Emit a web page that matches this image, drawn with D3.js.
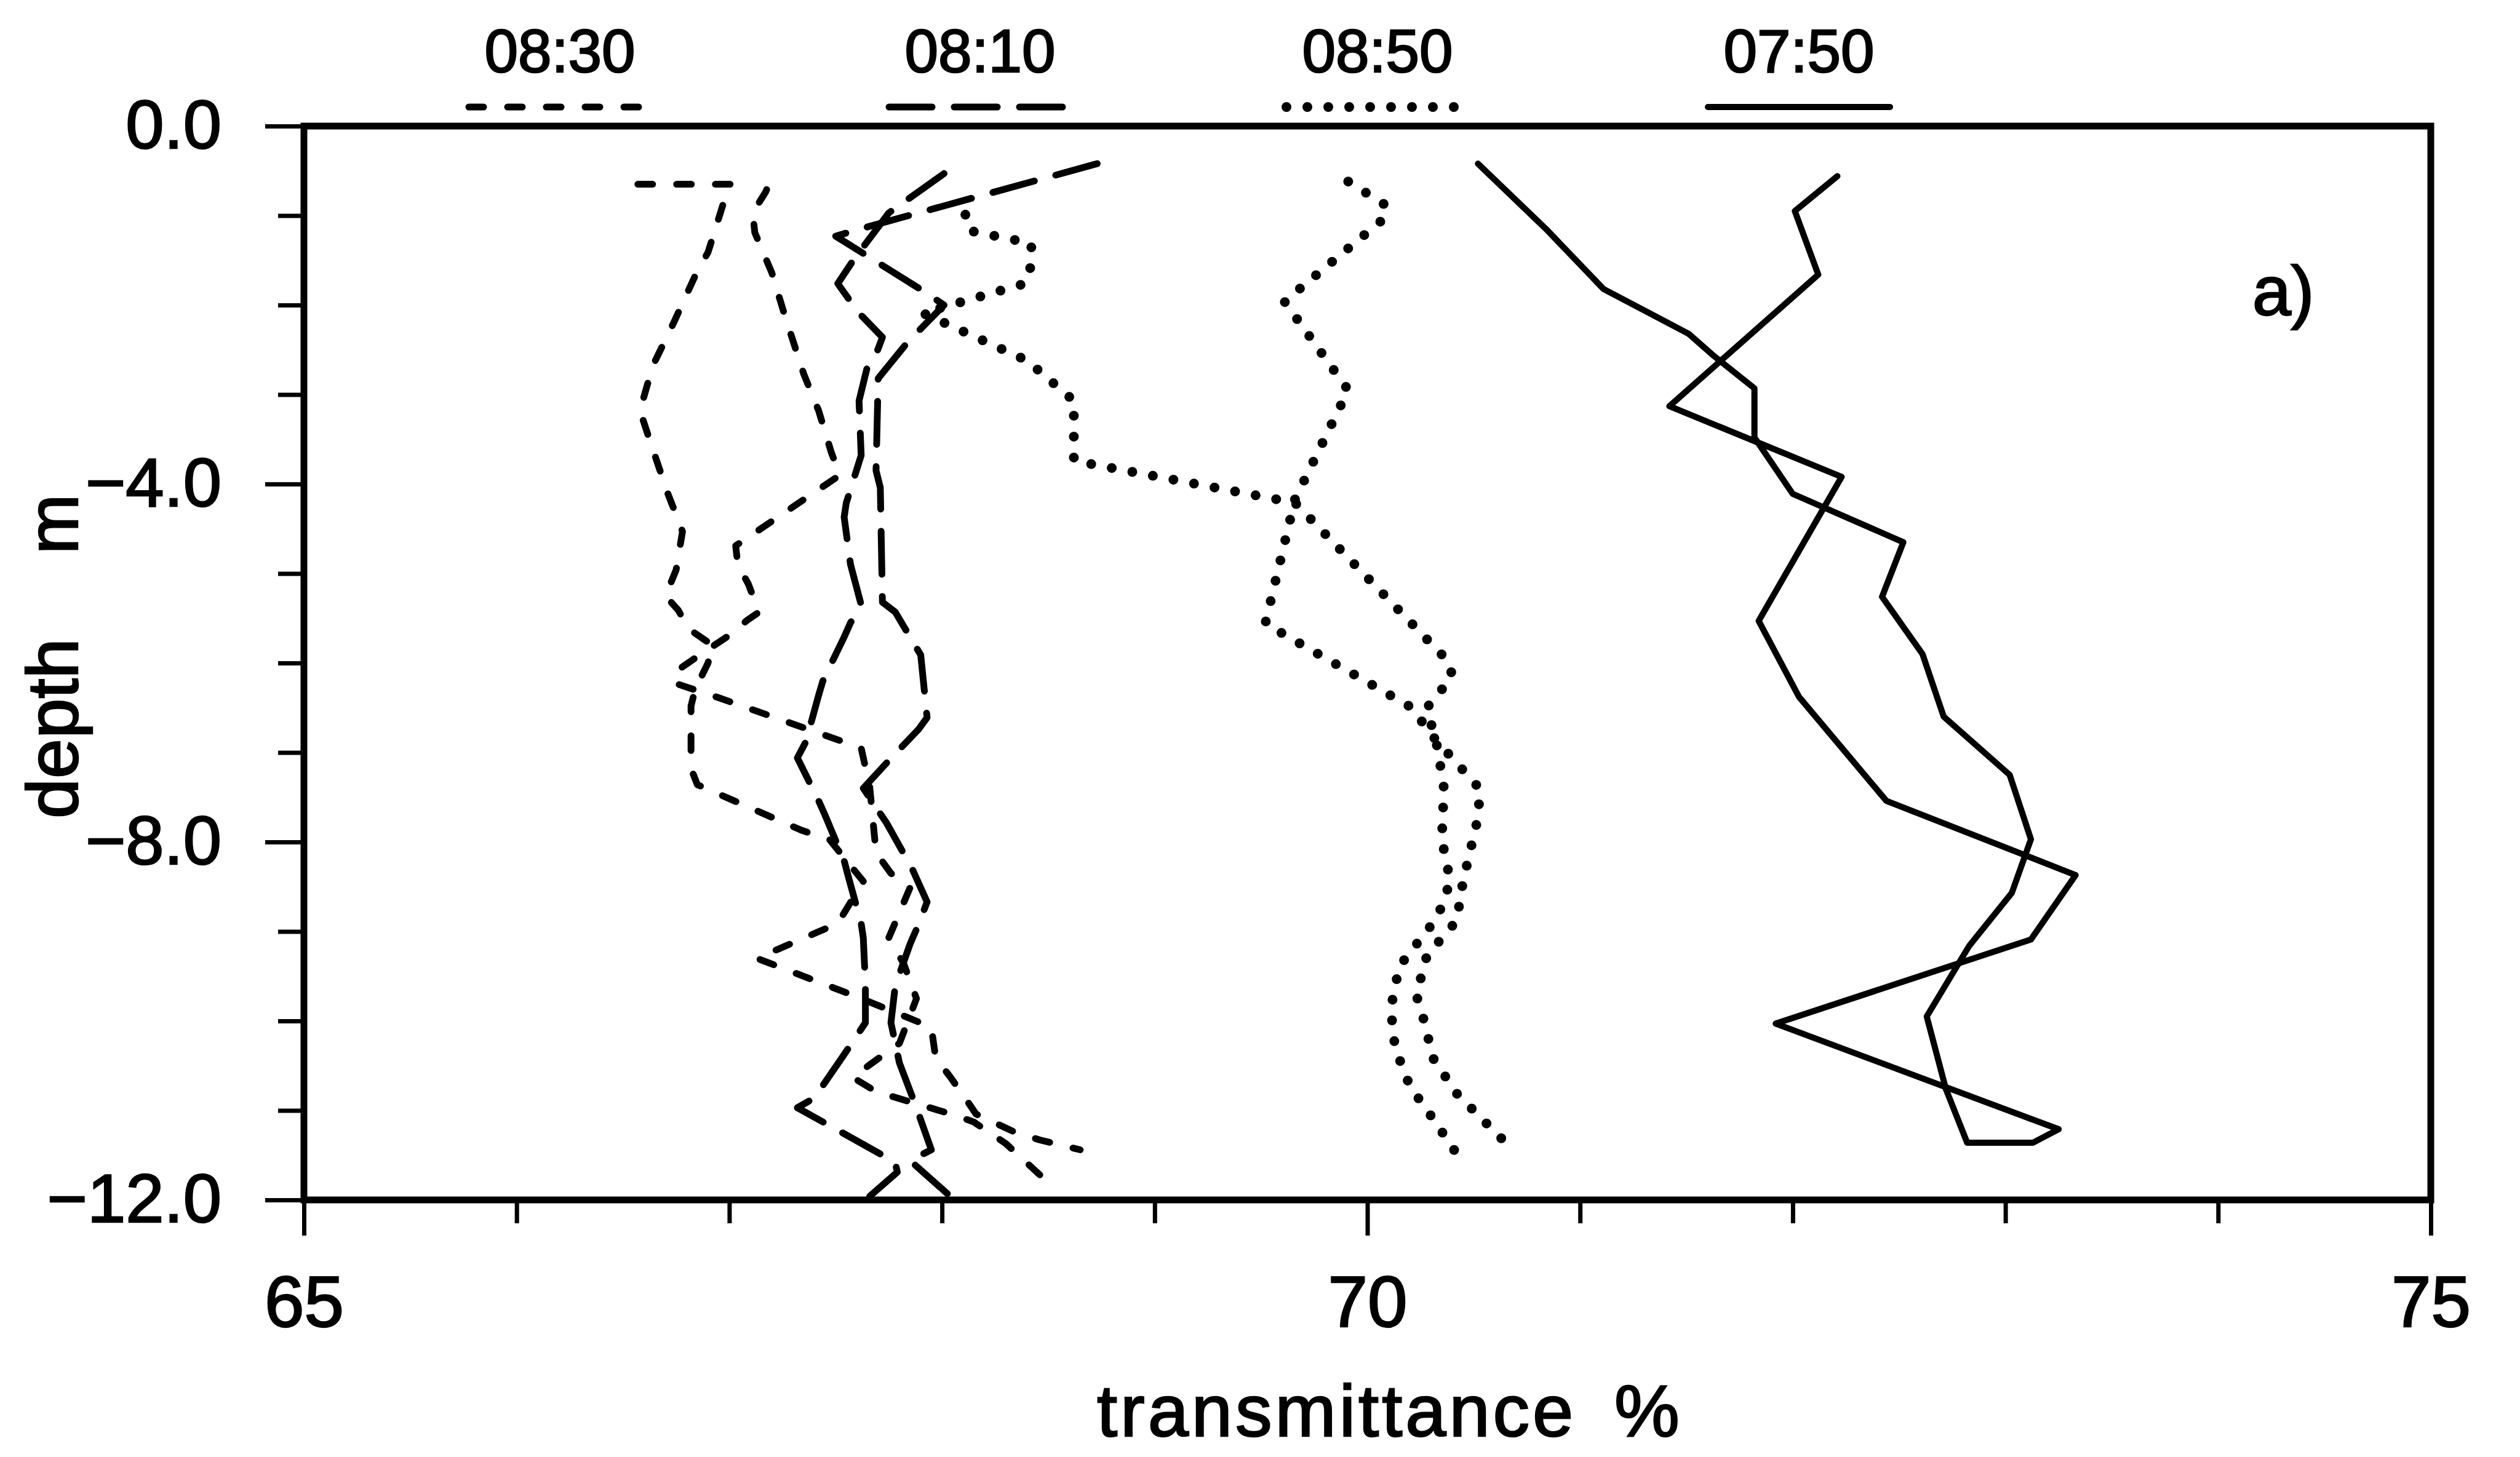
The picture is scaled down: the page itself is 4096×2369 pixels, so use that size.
<!DOCTYPE html>
<html>
<head>
<meta charset="utf-8">
<script src="https://cdn.jsdelivr.net/npm/d3@7"></script>
<style>
  html, body { margin: 0; padding: 0; background: #fff; }
  svg { display: block; }
  text { fill: #000; stroke: #000; stroke-width: 2.5px; paint-order: stroke; }
</style>
</head>
<body>
<svg id="chart" width="4096" height="2369"></svg>
<script>
// ---- data: transmittance (%) against depth (m), two casts per profile time ----
const times = ["08:30", "08:10", "08:50", "07:50"];

const cast0830Down = [[66.57,-0.65],[67.01,-0.65],[66.97,-0.88],[66.90,-1.41],[66.84,-1.67],[66.74,-2.19],[66.64,-2.68],[66.58,-3.18],[66.63,-3.54],[66.71,-4.10],[66.78,-4.53],[66.75,-4.96],[66.70,-5.25],[66.76,-5.41],[66.81,-5.62],[66.92,-5.80],[66.90,-6.00],[66.84,-6.29],[66.82,-6.48],[66.82,-7.18],[66.85,-7.36],[67.34,-7.87],[67.47,-7.97],[67.63,-8.44],[67.51,-8.91],[67.13,-9.30],[67.60,-9.73],[67.95,-10.07],[67.97,-10.41],[68.04,-10.63],[68.10,-10.83],[68.16,-11.04],[68.34,-11.24],[68.46,-11.33],[68.65,-11.44]];
const cast0830Up = [[68.46,-11.72],[68.30,-11.37],[68.15,-11.13],[68.07,-11.06],[67.69,-10.79],[67.58,-10.63],[67.66,-10.49],[67.80,-10.25],[67.88,-9.75],[67.82,-9.36],[67.75,-9.07],[67.85,-8.51],[67.76,-8.35],[67.69,-8.12],[67.66,-7.38],[67.62,-6.95],[66.94,-6.38],[66.75,-6.23],[66.74,-6.11],[66.83,-5.96],[67.00,-5.69],[67.08,-5.53],[67.14,-5.43],[67.09,-5.12],[67.04,-4.90],[67.03,-4.69],[67.52,-3.90],[67.48,-3.65],[67.42,-3.18],[67.35,-2.77],[67.26,-2.11],[67.20,-1.64],[67.12,-1.19],[67.11,-0.97],[67.17,-0.74],[67.21,-0.53]];

const cast0810A = [[68.73,-0.42],[67.63,-1.14],[67.50,-1.23],[67.91,-1.84],[68.01,-2.00],[67.84,-2.41],[67.70,-2.82],[67.69,-3.85],[67.71,-4.04],[67.72,-5.32],[67.78,-5.43],[67.90,-5.91],[67.93,-6.61],[67.89,-6.74],[67.75,-7.09],[67.63,-7.40],[67.70,-7.65],[67.74,-7.79],[67.86,-8.30],[67.93,-8.67],[67.89,-8.92],[67.85,-9.14],[67.78,-9.61],[67.76,-10.02],[67.80,-10.47],[67.88,-10.97],[67.95,-11.44],[67.85,-11.56],[68.03,-11.94]];
const cast0810B = [[68.01,-0.53],[67.75,-0.97],[67.63,-1.35],[67.58,-1.51],[67.51,-1.76],[67.57,-1.96],[67.61,-2.09],[67.72,-2.36],[67.69,-2.55],[67.65,-2.68],[67.61,-3.07],[67.62,-3.68],[67.55,-4.21],[67.54,-4.37],[67.57,-4.90],[67.59,-5.08],[67.62,-5.35],[67.57,-5.55],[67.54,-5.71],[67.44,-6.20],[67.42,-6.36],[67.36,-6.88],[67.32,-7.06],[67.42,-7.54],[67.45,-7.70],[67.54,-8.21],[67.56,-8.39],[67.62,-8.91],[67.63,-9.07],[67.64,-9.59],[67.64,-10.02],[67.57,-10.27],[67.53,-10.41],[67.40,-10.86],[67.32,-10.97],[67.54,-11.26],[67.78,-11.58],[67.79,-11.69],[67.66,-11.96]];

const cast0850A = [[68.11,-0.99],[68.13,-1.17],[68.42,-1.31],[68.42,-1.55],[68.39,-1.76],[67.91,-2.09],[68.40,-2.62],[68.62,-3.07],[68.62,-3.74],[69.66,-4.21],[70.38,-5.98],[70.40,-6.15],[70.28,-6.50],[70.33,-6.95],[70.36,-7.40],[70.35,-7.97],[70.39,-8.44],[70.33,-8.84],[70.15,-9.39],[70.11,-9.86],[70.13,-10.30],[70.20,-10.73],[70.32,-11.13],[70.43,-11.52]];
const cast0850B = [[69.91,-0.62],[70.09,-0.89],[70.07,-1.05],[69.61,-1.96],[69.91,-2.95],[69.66,-4.17],[69.52,-5.56],[70.21,-6.50],[70.30,-6.80],[70.53,-7.41],[70.52,-7.73],[70.45,-8.44],[70.42,-8.88],[70.28,-9.27],[70.23,-9.71],[70.26,-9.94],[70.31,-10.42],[70.42,-10.81],[70.65,-11.36]];

const cast0750Down = [[70.52,-0.42],[70.84,-1.15],[71.11,-1.82],[71.51,-2.32],[71.63,-2.57],[71.82,-2.93],[71.82,-3.48],[72.00,-4.11],[72.52,-4.65],[72.42,-5.26],[72.61,-5.90],[72.71,-6.60],[73.02,-7.25],[73.12,-7.97],[73.03,-8.57],[72.83,-9.16],[72.63,-9.95],[72.72,-10.76],[72.82,-11.36],[73.13,-11.36],[73.25,-11.21]];
const cast0750Up = [[73.25,-11.21],[71.92,-10.03],[73.12,-9.09],[73.33,-8.37],[72.44,-7.54],[72.03,-6.38],[71.84,-5.53],[72.23,-3.92],[71.42,-3.13],[72.12,-1.66],[72.01,-0.95],[72.21,-0.56]];

const depthMajor = [0, -4, -8, -12];
const depthMinor = [-1, -2, -3, -5, -6, -7, -9, -10, -11];
const transMajor = [65, 70, 75];
const transMinor = [66, 67, 68, 69, 71, 72, 73, 74];

// casts grouped by profile time
const profiles = [
  { time: "08:30", casts: [cast0830Down, cast0830Up] },
  { time: "08:10", casts: [cast0810A, cast0810B] },
  { time: "08:50", casts: [cast0850A, cast0850B] },
  { time: "07:50", casts: [cast0750Down, cast0750Up] }
];

// ---- styling & layout ----
const lineStyle = {
  "08:30": { dash: "24 39", width: 11, cap: "round" },
  "08:10": { dash: "70 36", width: 11, cap: "round" },
  "08:50": { dash: "0 34", width: 16, cap: "round" },
  "07:50": { dash: null, width: 10, cap: "round" }
};
const legendCenters = [910, 1593, 2239, 2924];
const font = "'Liberation Sans', Arial, Helvetica, sans-serif";

const W = 4096, H = 2369;
const plot = { left: 494, right: 3951, top: 205, bottom: 1951 };

const svg = d3.select("#chart");
svg.append("rect").attr("width", W).attr("height", H).attr("fill", "#fff");

const x = d3.scaleLinear().domain([65, 75]).range([plot.left, plot.right]);
const y = d3.scaleLinear().domain([0, -12]).range([plot.top, plot.bottom]);

// ---- axes ----
function styleAxis(g, fontSize) {
  g.select(".domain").remove();
  g.selectAll(".tick line").attr("stroke", "#000").attr("stroke-width", 7);
  g.selectAll(".tick text")
    .attr("fill", "#000")
    .style("font-family", font)
    .style("font-size", fontSize + "px");
}

const xMinor = svg.append("g").attr("transform", `translate(0,${plot.bottom})`)
  .call(d3.axisBottom(x).tickValues(transMinor).tickSize(38).tickFormat(""));
styleAxis(xMinor, 10);
const xMajor = svg.append("g").attr("transform", `translate(0,${plot.bottom})`)
  .call(d3.axisBottom(x).tickValues(transMajor).tickSize(58).tickPadding(66).tickFormat(d3.format("d")));
styleAxis(xMajor, 116);

const yMinor = svg.append("g").attr("transform", `translate(${plot.left},0)`)
  .call(d3.axisLeft(y).tickValues(depthMinor).tickSize(42).tickFormat(""));
styleAxis(yMinor, 10);
const yMajor = svg.append("g").attr("transform", `translate(${plot.left},0)`)
  .call(d3.axisLeft(y).tickValues(depthMajor).tickSize(63).tickPadding(71).tickFormat(d3.format(".1f")));
styleAxis(yMajor, 112);

// ---- frame ----
svg.append("rect")
  .attr("x", x(65)).attr("y", y(0))
  .attr("width", x(75) - x(65)).attr("height", y(-12) - y(0))
  .attr("fill", "none").attr("stroke", "#000").attr("stroke-width", 11);

// ---- profiles ----
const line = d3.line().x(d => x(d[0])).y(d => y(d[1]));
const gLines = svg.append("g");
profiles.forEach(p => {
  const s = lineStyle[p.time];
  p.casts.forEach(c => {
    gLines.append("path")
      .attr("d", line(c))
      .attr("fill", "none")
      .attr("stroke", "#000")
      .attr("stroke-width", s.width)
      .attr("stroke-linecap", s.cap)
      .attr("stroke-linejoin", "round")
      .attr("stroke-dasharray", s.dash);
  });
});

// ---- legend ----
const gLeg = svg.append("g");
times.forEach((t, i) => {
  const cx = legendCenters[i];
  const s = lineStyle[t];
  gLeg.append("text")
    .attr("x", cx).attr("y", 117)
    .attr("text-anchor", "middle")
    .style("font-family", font).style("font-size", "98px")
    .text(t);
  gLeg.append("line")
    .attr("x1", cx - 148).attr("x2", cx + 148)
    .attr("y1", 174).attr("y2", 174)
    .attr("stroke", "#000")
    .attr("stroke-width", s.width)
    .attr("stroke-linecap", s.cap)
    .attr("stroke-dasharray", s.dash);
});

// ---- axis titles ----
const xt = svg.append("text")
  .attr("x", 1783).attr("y", 2335)
  .style("font-family", font).style("font-size", "119px");
xt.append("tspan").style("letter-spacing", "5px").text("transmittance");
xt.append("tspan").attr("x", 2624).text("%");

const yt = svg.append("text")
  .attr("transform", "translate(126,1331) rotate(-90)")
  .style("font-family", font).style("font-size", "117px");
yt.append("tspan").attr("x", 0).text("depth");
yt.append("tspan").attr("x", 430).text("m");

// ---- panel label ----
svg.append("text")
  .attr("x", 3661).attr("y", 512)
  .style("font-family", font).style("font-size", "113px")
  .text("a)");
</script>
</body>
</html>
